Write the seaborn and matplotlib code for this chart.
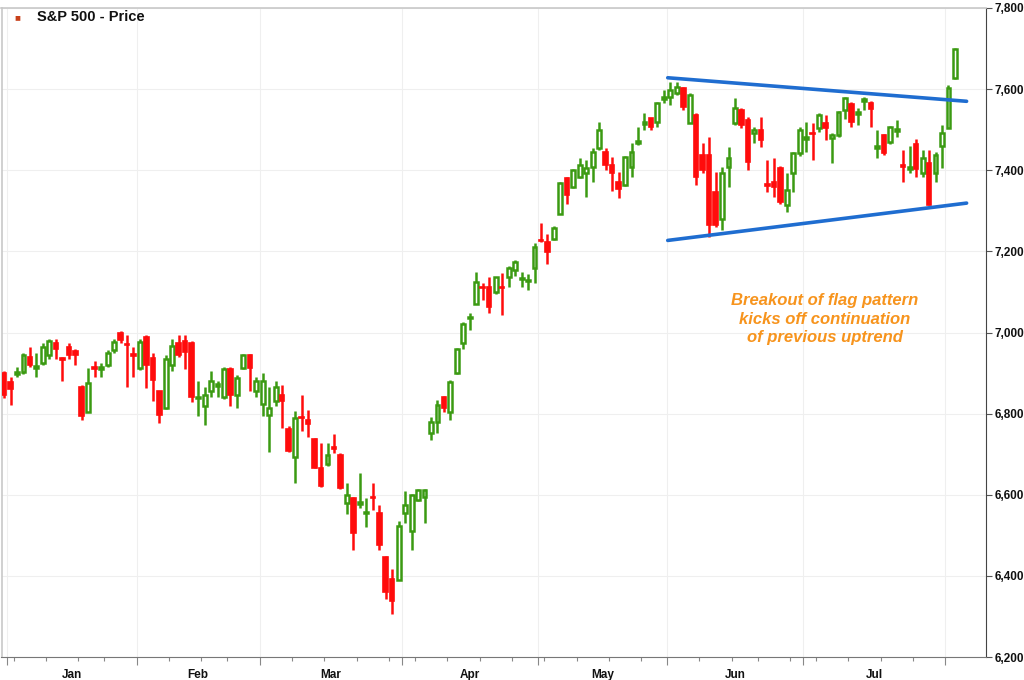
import numpy as np
import pandas as pd
import matplotlib
matplotlib.use("Agg")
import matplotlib.pyplot as plt
import matplotlib.transforms as mtransforms
import seaborn as sns

# trading calendar (Dec 31 + Jan..early Aug)
holidays = ['2026-01-01', '2026-01-19', '2026-02-16', '2026-04-03',
            '2026-05-25', '2026-06-19', '2026-07-03']
dates = pd.bdate_range('2025-12-31', '2026-08-04')
dates = dates[~dates.isin(pd.to_datetime(holidays))]

month_names = ['Jan', 'Feb', 'Mar', 'Apr', 'May', 'Jun', 'Jul']
y_ticks = [6200, 6400, 6600, 6800, 7000, 7200, 7400, 7600, 7800]

opens = [6900, 6879, 6897, 6903, 6940, 6912, 6925, 6945, 6973, 6937,
         6965, 6955, 6866, 6805, 6914, 6910, 6920, 6957, 7000, 6972,
         6947, 6913, 6990, 6937, 6855, 6815, 6920, 6975, 6978, 6975,
         6838, 6820, 6855, 6868, 6840, 6911, 6845, 6912, 6945, 6855,
         6823, 6797, 6830, 6845, 6762, 6692, 6792, 6785, 6738, 6667,
         6675, 6718, 6699, 6580, 6593, 6578, 6554, 6595, 6556, 6447,
         6393, 6390, 6556, 6510, 6588, 6595, 6752, 6780, 6840, 6805,
         6900, 6973, 7035, 7071, 7113, 7111, 7099, 7113, 7136, 7153,
         7131, 7126, 7158, 7229, 7222, 7230, 7291, 7380, 7358, 7383,
         7393, 7407, 7454, 7444, 7412, 7370, 7363, 7407, 7467, 7514,
         7528, 7518, 7576, 7580, 7590, 7603, 7516, 7536, 7437, 7437,
         7346, 7281, 7407, 7516, 7548, 7523, 7491, 7499, 7365, 7370,
         7405, 7314, 7393, 7442, 7477, 7493, 7504, 7516, 7479, 7486,
         7548, 7563, 7539, 7571, 7565, 7455, 7486, 7469, 7497, 7412,
         7403, 7464, 7393, 7417, 7393, 7461, 7504, 7627]

closes = [6845, 6860, 6902, 6945, 6920, 6917, 6965, 6980, 6960, 6933,
          6945, 6945, 6795, 6875, 6910, 6914, 6950, 6977, 6982, 6968,
          6943, 6977, 6920, 6882, 6797, 6935, 6967, 6945, 6953, 6840,
          6842, 6845, 6880, 6874, 6911, 6845, 6888, 6945, 6912, 6880,
          6880, 6815, 6866, 6830, 6708, 6790, 6788, 6775, 6667, 6622,
          6699, 6714, 6617, 6600, 6506, 6582, 6558, 6591, 6477, 6361,
          6337, 6524, 6575, 6600, 6612, 6612, 6780, 6822, 6815, 6879,
          6960, 7022, 7039, 7124, 7109, 7062, 7136, 7109, 7160, 7173,
          7135, 7130, 7210, 7225, 7198, 7257, 7368, 7338, 7400, 7412,
          7405, 7444, 7499, 7412, 7393, 7355, 7432, 7444, 7471, 7518,
          7506, 7565, 7580, 7598, 7605, 7556, 7585, 7383, 7400, 7264,
          7264, 7393, 7429, 7553, 7511, 7420, 7499, 7474, 7361, 7358,
          7321, 7351, 7442, 7499, 7481, 7489, 7536, 7504, 7486, 7543,
          7578, 7518, 7543, 7575, 7551, 7459, 7442, 7506, 7501, 7408,
          7407, 7402, 7429, 7314, 7437, 7491, 7602, 7700]

highs = [6905, 6891, 6915, 6950, 6965, 6950, 6975, 6985, 6985, 6940,
         6975, 6960, 6870, 6912, 6930, 6925, 6957, 6983, 7003, 6995,
         6965, 6983, 6993, 6950, 6857, 6945, 6985, 6993, 6993, 6978,
         6880, 6866, 6905, 6880, 6915, 6915, 6895, 6948, 6947, 6890,
         6900, 6866, 6880, 6870, 6770, 6807, 6845, 6808, 6740, 6728,
         6728, 6750, 6702, 6630, 6595, 6654, 6593, 6630, 6575, 6450,
         6418, 6535, 6610, 6602, 6615, 6615, 6792, 6834, 6843, 6884,
         6963, 7025, 7047, 7148, 7121, 7136, 7138, 7146, 7163, 7178,
         7148, 7143, 7220, 7269, 7242, 7262, 7370, 7383, 7402, 7429,
         7425, 7455, 7519, 7454, 7432, 7395, 7435, 7467, 7506, 7541,
         7530, 7568, 7598, 7617, 7617, 7605, 7590, 7541, 7467, 7481,
         7395, 7407, 7457, 7578, 7553, 7531, 7506, 7531, 7425, 7429,
         7410, 7393, 7444, 7506, 7519, 7516, 7541, 7536, 7491, 7546,
         7580, 7568, 7553, 7580, 7570, 7499, 7490, 7510, 7524, 7449,
         7459, 7476, 7449, 7449, 7444, 7511, 7610, 7702]

lows = [6838, 6822, 6890, 6898, 6915, 6890, 6920, 6935, 6935, 6880,
        6935, 6920, 6785, 6803, 6890, 6890, 6915, 6950, 6975, 6866,
        6890, 6908, 6862, 6830, 6778, 6812, 6905, 6940, 6910, 6828,
        6795, 6773, 6840, 6840, 6835, 6820, 6815, 6910, 6855, 6840,
        6795, 6705, 6820, 6765, 6705, 6630, 6757, 6742, 6665, 6618,
        6670, 6704, 6615, 6552, 6465, 6568, 6521, 6563, 6465, 6344,
        6307, 6390, 6530, 6465, 6585, 6530, 6735, 6753, 6805, 6785,
        6897, 6960, 7005, 7071, 7079, 7047, 7095, 7042, 7111, 7140,
        7111, 7104, 7121, 7222, 7168, 7228, 7291, 7316, 7356, 7380,
        7333, 7370, 7449, 7400, 7348, 7331, 7360, 7383, 7462, 7499,
        7500, 7506, 7565, 7560, 7585, 7548, 7516, 7363, 7393, 7235,
        7259, 7252, 7358, 7511, 7505, 7400, 7467, 7457, 7346, 7333,
        7318, 7296, 7346, 7435, 7444, 7425, 7495, 7474, 7417, 7483,
        7526, 7506, 7511, 7548, 7506, 7429, 7438, 7465, 7481, 7370,
        7393, 7383, 7383, 7314, 7370, 7405, 7504, 7625]

# flag pattern trendlines (candle index, price)
upper_x = [102.6, 148.8]
upper_y = [7628, 7570]
lower_x = [102.6, 148.8]
lower_y = [7227, 7319]

df = pd.DataFrame({'date': dates[:len(opens)], 'open': opens, 'high': highs,
                   'low': lows, 'close': closes})
df['pos'] = np.arange(len(df))
df['up'] = df['close'] >= df['open']

GREEN = '#3b9a12'
RED = '#ff0c0c'
BLUE = '#1f6dd0'

sns.set_theme(style='white')
plt.rcParams['font.family'] = ['Liberation Sans', 'DejaVu Sans']

fig = plt.figure(figsize=(10.24, 6.8), dpi=100)
ax = fig.add_axes([1.5 / 1024, 1 - 657 / 680, 984.5 / 1024, 649 / 680])

# wicks
for up, color in [(True, GREEN), (False, RED)]:
    sub = df[df['up'] == up]
    ax.vlines(sub['pos'], sub['low'], sub['high'], color=color, lw=1.8, zorder=3)

# bodies
w = 0.6
ups = df[df['up']]
dns = df[~df['up']]
ax.bar(ups['pos'], (ups['close'] - ups['open']).clip(lower=2), bottom=ups['open'],
       width=w, color='white', edgecolor=GREEN, linewidth=1.8, zorder=4)
ax.bar(dns['pos'], (dns['open'] - dns['close']).clip(lower=2), bottom=dns['close'],
       width=w + 0.1, color=RED, edgecolor=RED, linewidth=1.2, zorder=4)

# flag lines
sns.lineplot(x=upper_x, y=upper_y, ax=ax, color=BLUE, lw=2.6, zorder=5)
sns.lineplot(x=lower_x, y=lower_y, ax=ax, color=BLUE, lw=2.6, zorder=5)

ax.text(126.9, 7033, 'Breakout of flag pattern\nkicks off continuation\nof previous uptrend',
        color='#f7941d', fontsize=12, fontweight='bold', fontstyle='italic',
        ha='center', va='center', linespacing=1.32, zorder=6)

# axes limits and ticks
ax.set_xlim(-0.4, 151.8)
ax.set_ylim(6200, 7800)

month_change = [i - 0.5 for i in range(1, len(df)) if df['date'][i].month != df['date'][i - 1].month]
week_change = [i - 0.5 for i in range(1, len(df)) if df['date'][i].weekday() < df['date'][i - 1].weekday()]

ax.set_xticks(month_change)
ax.set_xticklabels([])
ax.set_xticks(week_change, minor=True)
ax.tick_params(axis='x', which='major', length=6, width=0.8, color='#888888', bottom=True)
ax.tick_params(axis='x', which='minor', length=3, width=0.8, color='#888888', bottom=True)

trans = mtransforms.blended_transform_factory(ax.transData, ax.transAxes)
for k, name in enumerate(month_names):
    ax.text((month_change[k] + month_change[k + 1]) / 2, -0.027, name, transform=trans,
            ha='center', va='center', fontsize=8.5, fontweight='bold', color='#111111')

ax.yaxis.tick_right()
ax.set_yticks(y_ticks)
ax.set_yticklabels([f'{v:,}' for v in y_ticks], fontsize=8.5, fontweight='bold', color='#111111')
ax.tick_params(axis='y', which='major', length=4, width=0.8, color='#555555', pad=2, right=True)

ax.grid(True, axis='y', color='#efefef', lw=0.8)
for xb in month_change:
    ax.axvline(xb, color='#efefef', lw=0.8, zorder=0)
ax.set_axisbelow(True)

for side in ['left', 'top']:
    ax.spines[side].set_color('#c8c8c8')
    ax.spines[side].set_linewidth(1.2)
ax.spines['bottom'].set_color('#777777')
ax.spines['right'].set_color('#444444')
ax.spines['bottom'].set_linewidth(0.8)
ax.spines['right'].set_linewidth(0.8)
ax.set_xlabel('')
ax.set_ylabel('')

# legend label
fig.text(17 / 1024, 1 - 17 / 680, '\u25a0', color='#c8401a', fontsize=7, ha='center', va='center')
fig.text(37 / 1024, 1 - 17 / 680, 'S&P 500 - Price', color='#111111', fontsize=10.5,
         fontweight='bold', ha='left', va='center')

fig.savefig('out.png', dpi=100)
